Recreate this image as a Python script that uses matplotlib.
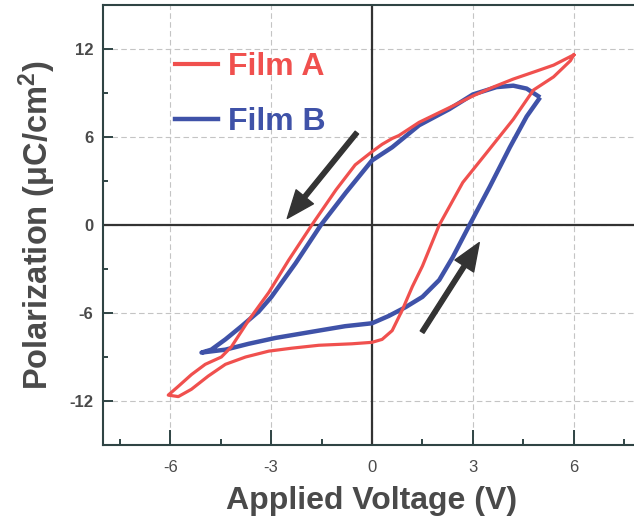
import matplotlib
matplotlib.use("Agg")
import matplotlib.pyplot as plt
from matplotlib.lines import Line2D

plt.rcParams['font.family'] = ['Liberation Sans', 'DejaVu Sans']
plt.rcParams['mathtext.default'] = 'regular'

# ---- data ----
film_a_v = [6.0, 5.4, 4.9, 4.2, 3.6, 3.0, 2.3, 1.4, 0.8, 0.6, 0.3, 0.0, -0.5, -1.07, -1.79,
            -2.48, -3.07, -3.67, -4.18, -4.48, -4.96, -5.37, -5.76, -6.06,
            -5.76, -5.37, -4.87, -4.36, -3.76, -3.07, -2.39, -1.58, -0.6, 0.0, 0.3, 0.6,
            0.9, 1.2, 1.5, 2.0, 2.7, 3.4, 4.2, 4.8, 5.4, 5.9, 6.0]
film_a_p = [11.6, 10.9, 10.5, 9.95, 9.4, 8.8, 8.0, 7.0, 6.1, 5.9, 5.5, 5.0, 4.1, 2.4, 0.0,
            -2.4, -4.6, -6.5, -8.3, -9.0, -9.5, -10.2, -11.0, -11.6,
            -11.7, -11.2, -10.3, -9.5, -9.0, -8.6, -8.4, -8.2, -8.1, -8.0, -7.8, -7.2,
            -5.8, -4.2, -2.8, 0.0, 2.9, 4.9, 7.2, 9.2, 10.1, 11.2, 11.6]

film_b_v = [5.0, 4.6, 4.2, 3.7, 3.0, 2.3, 1.4, 0.6, 0.0, -0.78, -1.52, -2.27, -2.99, -3.37,
            -3.88, -4.36, -4.78, -5.07,
            -4.9, -4.36, -3.67, -2.87, -1.58, -0.8, 0.0, 0.5, 1.0, 1.5, 2.0, 2.4, 2.9,
            3.5, 4.1, 4.6, 5.0]
film_b_p = [8.7, 9.3, 9.5, 9.4, 8.9, 7.9, 6.8, 5.3, 4.4, 2.2, 0.0, -2.6, -4.9, -5.9,
            -6.9, -7.8, -8.5, -8.7,
            -8.65, -8.5, -8.1, -7.7, -7.2, -6.9, -6.7, -6.2, -5.6, -4.9, -3.75, -2.2, 0.0,
            2.6, 5.3, 7.4, 8.7]

labels = ["Film A", "Film B"]
x_ticks = [-6, -3, 0, 3, 6]
y_ticks = [-12, -6, 0, 6, 12]
x_minor = [-7.5, -4.5, -1.5, 1.5, 4.5, 7.5]
y_minor = [-9, -3, 3, 9]

# arrows: (tail, head) in data coords
arrow_down = ((-0.45, 6.3), (-2.52, 0.45))
arrow_up = ((1.49, -7.3), (3.19, -1.2))

RED = '#f0504e'
BLUE = '#3f52a8'
TXT = '#4a4a4a'
SPINE = '#2f4444'

fig = plt.figure(figsize=(6.34, 5.25), dpi=100)
ax = fig.add_axes([103/634, 1-445/525, (641-103)/634, 440/525])

ax.set_xlim(-8, 8)
ax.set_ylim(-15, 15)

ax.set_xticks(x_ticks)
ax.set_yticks(y_ticks)
ax.set_xticks(x_minor, minor=True)
ax.set_yticks(y_minor, minor=True)
ax.set_xticklabels([str(t) for t in x_ticks])
ax.set_yticklabels([str(t) for t in y_ticks])

ax.grid(True, which='major', color='#c4c4c4', lw=0.8, ls=(0, (5, 3)))
ax.set_axisbelow(True)
ax.axhline(0, color='#333333', lw=1.6, zorder=1.5)
ax.axvline(0, color='#333333', lw=1.6, zorder=1.5)

ax.plot(film_b_v, film_b_p, color=BLUE, lw=3.2, solid_capstyle='butt', zorder=3)
ax.plot(film_a_v, film_a_p, color=RED, lw=2.3, zorder=4)

for (t, h) in (arrow_down, arrow_up):
    ax.annotate('', xy=h, xytext=t,
                arrowprops=dict(arrowstyle='simple,head_length=1.0,head_width=0.8,tail_width=0.16',
                                color='#333333', shrinkA=0, shrinkB=0, mutation_scale=20),
                zorder=5)

for s in ax.spines.values():
    s.set_color(SPINE)
    s.set_linewidth(1.5)
ax.spines['right'].set_visible(False)

ax.tick_params(axis='x', which='major', direction='in', length=11, width=1.4,
               color=SPINE, pad=11, labelsize=12, labelcolor=TXT)
ax.tick_params(axis='x', which='minor', direction='in', length=4.5, width=1.4, color=SPINE)
ax.tick_params(axis='y', which='major', direction='in', length=7, width=1.4,
               color=SPINE, pad=7, labelsize=12, labelcolor=TXT)
ax.tick_params(axis='y', which='minor', direction='in', length=3.5, width=1.4, color=SPINE)
for lab in ax.get_yticklabels():
    lab.set_fontweight('bold')

ax.set_xlabel('Applied Voltage (V)', fontsize=23, fontweight='bold', color=TXT, labelpad=8)
ax.set_ylabel('Polarization (μC/cm$^2$)', fontsize=23.5, fontweight='bold', color=TXT, labelpad=8)

handles = [Line2D([], [], color=RED, lw=3), Line2D([], [], color=BLUE, lw=3.2)]
leg = ax.legend(handles, labels, loc='center left', bbox_to_anchor=(0.134, 0.796),
                frameon=False, borderpad=0, borderaxespad=0, handlelength=1.35,
                handletextpad=0.32, labelspacing=0.78,
                prop={'size': 23, 'weight': 'bold'})
for txt, c in zip(leg.get_texts(), [RED, BLUE]):
    txt.set_color(c)

fig.savefig('out.png', dpi=100)
